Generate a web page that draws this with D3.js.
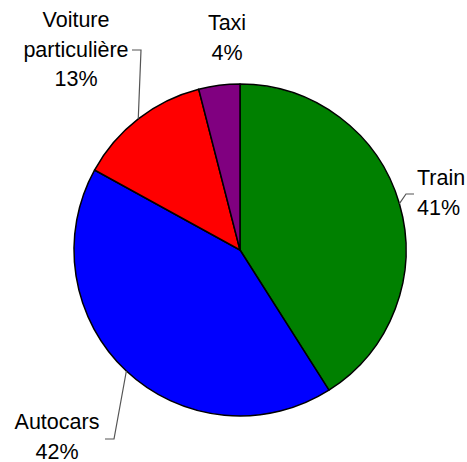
<!DOCTYPE html>
<html><head><meta charset="utf-8">
<script src="https://cdn.jsdelivr.net/npm/d3@7"></script>
<style>html,body{margin:0;padding:0;background:#fff;}svg{display:block;}</style>
</head><body>
<script>
const categories = ["Train", "Autocars", "Voiture particulière", "Taxi"];
const values = [41, 42, 13, 4];
const colors = ["#008000", "#0000FF", "#FF0000", "#800080"];

// label layout (lines of text, anchor, position; leader elbow/end)
const labelLayout = [
  {lines: ["Train", "41%"], x: 417, y: 185, anchor: "start", leader: [[406, 194], [414, 194]]},
  {lines: ["Autocars", "42%"], x: 57, y: 429, anchor: "middle", leader: [[114, 439], [105, 439]]},
  {lines: ["Voiture", "particulière", "13%"], x: 76, y: 27, anchor: "middle", leader: [[141, 50], [132, 50]]},
  {lines: ["Taxi", "4%"], x: 227, y: 30, anchor: "middle", leader: null}
];

const W = 467, H = 462, cx = 240, cy = 250, R = 166;
const svg = d3.select("body").append("svg").attr("width", W).attr("height", H);
const g = svg.append("g").attr("transform", `translate(${cx},${cy})`);

const pie = d3.pie().sort(null).value(d => d)(values);
const arc = d3.arc().innerRadius(0).outerRadius(R);

g.selectAll("path.slice").data(pie).join("path")
  .attr("class", "slice")
  .attr("d", arc)
  .attr("fill", (d, i) => colors[i])
  .attr("stroke", "#000")
  .attr("stroke-width", 1.5)
  .attr("stroke-linejoin", "round");

pie.forEach((d, i) => {
  const L = labelLayout[i];
  if (L.leader) {
    const a = (d.startAngle + d.endAngle) / 2;
    const p0 = [cx + R * Math.sin(a), cy - R * Math.cos(a)];
    const pts = [p0, L.leader[0], L.leader[1]];
    svg.append("path")
      .attr("d", d3.line()(pts))
      .attr("fill", "none")
      .attr("stroke", "#555")
      .attr("stroke-width", 1.2);
  }
  const t = svg.append("text")
    .attr("x", L.x).attr("y", L.y)
    .attr("text-anchor", L.anchor)
    .attr("font-family", "Liberation Sans, Arial, sans-serif")
    .attr("font-size", 21.5)
    .attr("fill", "#000");
  L.lines.forEach((s, k) => {
    t.append("tspan").attr("x", L.x).attr("dy", k === 0 ? 0 : 29.5).text(s);
  });
});
</script>
</body></html>
